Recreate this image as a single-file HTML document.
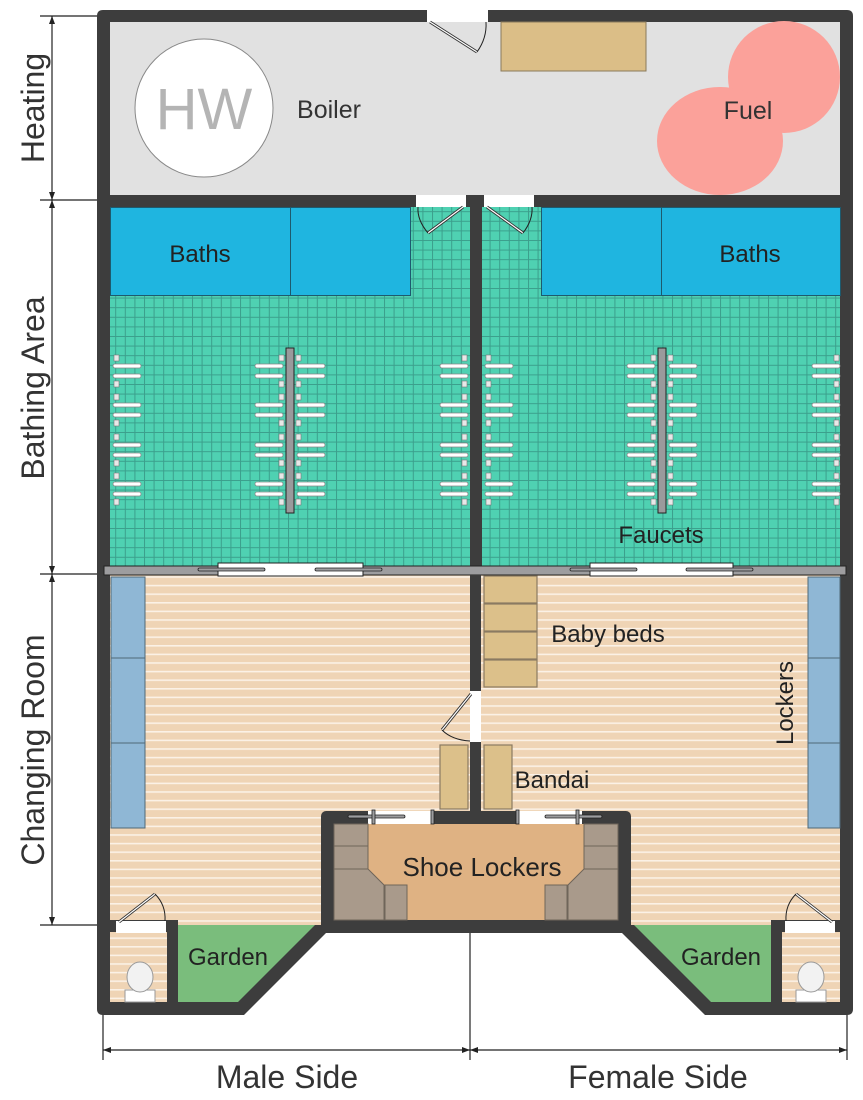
<!DOCTYPE html>
<html><head><meta charset="utf-8"><style>
html,body{margin:0;padding:0;background:#fff;}
svg{display:block;font-family:"Liberation Sans","DejaVu Sans",sans-serif;}
</style></head><body>
<svg width="863" height="1100" viewBox="0 0 863 1100" xmlns="http://www.w3.org/2000/svg">
<defs>
<pattern id="grid" width="9.6" height="9.6" patternUnits="userSpaceOnUse">
<rect width="9.6" height="9.6" fill="#4fd1b2"/>
<path d="M0 0.5H9.6M0.5 0V9.6" stroke="#3b9f8c" stroke-width="1"/>
</pattern>
<pattern id="wood" width="20" height="8.6" patternUnits="userSpaceOnUse">
<rect width="20" height="8.6" fill="#efd4b5"/>
<rect y="0" width="20" height="1.6" fill="#fbf1e6"/>
</pattern>
<g id="fl"><rect x="0" y="-2" width="28" height="4" rx="2" fill="#fff" stroke="#888" stroke-width="0.8"/></g>
</defs>

<!-- dimension lines -->
<g stroke="#222" stroke-width="1.2" fill="none">
<line x1="52" y1="16" x2="52" y2="925"/>
<line x1="40" y1="16" x2="105" y2="16"/>
<line x1="40" y1="200" x2="105" y2="200"/>
<line x1="40" y1="574" x2="105" y2="574"/>
<line x1="40" y1="925" x2="105" y2="925"/>
<line x1="103" y1="1050" x2="847" y2="1050"/>
<line x1="103" y1="1010" x2="103" y2="1060"/>
<line x1="470" y1="925" x2="470" y2="1060"/>
<line x1="847" y1="1010" x2="847" y2="1060"/>
</g>
<g fill="#222">
<path d="M52 16l-3 8h6z M52 200l-3 -8h6z M52 200l-3 8h6z M52 574l-3 -8h6z M52 574l-3 8h6z M52 925l-3 -8h6z"/>
<path d="M103 1050l8 -3v6z M470 1050l-8 -3v6z M470 1050l8 -3v6z M847 1050l-8 -3v6z"/>
</g>
<g fill="#333" font-size="32">
<text transform="translate(44,108) rotate(-90)" text-anchor="middle">Heating</text>
<text transform="translate(44,388) rotate(-90)" text-anchor="middle">Bathing Area</text>
<text transform="translate(44,750) rotate(-90)" text-anchor="middle">Changing Room</text>
<text x="287" y="1088" text-anchor="middle">Male Side</text>
<text x="658" y="1088" text-anchor="middle">Female Side</text>
</g>

<!-- outer dark shell -->
<path d="M97 16 Q97 10 103 10 H847 Q853 10 853 16 V1009 Q853 1015 847 1015 H705 L622 933 H326 L244 1015 H103 Q97 1015 97 1009 Z" fill="#3d3d3d"/>

<!-- heating -->
<rect x="110" y="22" width="730" height="173" fill="#e1e1e1"/>
<rect x="427" y="10" width="61" height="12" fill="#fff"/>
<path d="M430 22 L477 52" stroke="#333" stroke-width="3"/><path d="M430 22 L477 52" stroke="#fff" stroke-width="1.2"/>
<path d="M477 52 Q487 38 486 22" stroke="#222" fill="none" stroke-width="1"/>
<rect x="501" y="22" width="145" height="49" fill="#dbbe87" stroke="#8a7a5c" stroke-width="1"/>
<circle cx="204" cy="108" r="69" fill="#fff" stroke="#888" stroke-width="1"/>
<text x="204" y="129" text-anchor="middle" font-size="58" fill="#b4b4b4" style="font-weight:100">HW</text>
<text x="329" y="118" text-anchor="middle" font-size="25" fill="#333">Boiler</text>
<g fill="#fba19a">
<circle cx="784" cy="77" r="56"/>
<ellipse cx="720" cy="141" rx="63" ry="54"/>
</g>
<rect x="840" y="22" width="13" height="173" fill="#3d3d3d"/>
<text x="748" y="119" text-anchor="middle" font-size="25" fill="#333">Fuel</text>

<!-- bathing -->
<rect x="110" y="207" width="360" height="359" fill="url(#grid)"/>
<rect x="482" y="207" width="358" height="359" fill="url(#grid)"/>
<rect x="416" y="195" width="50" height="12" fill="#fff"/>
<rect x="484" y="195" width="50" height="12" fill="#fff"/>
<g fill="none">
<path d="M463 207 L428 233" stroke="#333" stroke-width="3"/><path d="M463 207 L428 233" stroke="#fff" stroke-width="1.2"/>
<path d="M428 233 Q417 220 418 207" stroke="#222"/>
<path d="M487 207 L523 233" stroke="#333" stroke-width="3"/><path d="M487 207 L523 233" stroke="#fff" stroke-width="1.2"/>
<path d="M523 233 Q533 220 532 207" stroke="#222"/>
</g>
<g fill="#1fb5e0" stroke="#1d5a6e" stroke-width="1">
<rect x="110.5" y="207.5" width="180" height="88"/>
<rect x="290.5" y="207.5" width="120" height="88"/>
<rect x="541.5" y="207.5" width="120" height="88"/>
<rect x="661.5" y="207.5" width="179" height="88"/>
</g>
<g fill="#222" font-size="24">
<text x="200" y="262" text-anchor="middle">Baths</text>
<text x="750" y="262" text-anchor="middle">Baths</text>
<text x="661" y="543" text-anchor="middle">Faucets</text>
</g>
<!-- faucets -->
<g id="fcol">
<g>
<use href="#fl" x="113" y="366"/><use href="#fl" x="113" y="376"/>
<use href="#fl" x="113" y="405"/><use href="#fl" x="113" y="415"/>
<use href="#fl" x="113" y="445"/><use href="#fl" x="113" y="455"/>
<use href="#fl" x="113" y="484"/><use href="#fl" x="113" y="494"/>
<use href="#fl" x="255" y="366"/><use href="#fl" x="255" y="376"/>
<use href="#fl" x="255" y="405"/><use href="#fl" x="255" y="415"/>
<use href="#fl" x="255" y="445"/><use href="#fl" x="255" y="455"/>
<use href="#fl" x="255" y="484"/><use href="#fl" x="255" y="494"/>
<use href="#fl" x="297" y="366"/><use href="#fl" x="297" y="376"/>
<use href="#fl" x="297" y="405"/><use href="#fl" x="297" y="415"/>
<use href="#fl" x="297" y="445"/><use href="#fl" x="297" y="455"/>
<use href="#fl" x="297" y="484"/><use href="#fl" x="297" y="494"/>
<use href="#fl" x="440" y="366"/><use href="#fl" x="440" y="376"/>
<use href="#fl" x="440" y="405"/><use href="#fl" x="440" y="415"/>
<use href="#fl" x="440" y="445"/><use href="#fl" x="440" y="455"/>
<use href="#fl" x="440" y="484"/><use href="#fl" x="440" y="494"/>
</g>
<rect x="286" y="348" width="8" height="165" fill="#9a9a9c" stroke="#222" stroke-width="1"/>
<g fill="#e8e8e8" stroke="#777" stroke-width="0.6">
<rect x="114" y="355" width="5" height="6"/><rect x="114" y="381" width="5" height="6"/>
<rect x="114" y="394" width="5" height="6"/><rect x="114" y="420" width="5" height="6"/>
<rect x="114" y="434" width="5" height="6"/><rect x="114" y="460" width="5" height="6"/>
<rect x="114" y="473" width="5" height="6"/><rect x="114" y="499" width="5" height="6"/>
<rect x="279" y="355" width="5" height="6"/><rect x="279" y="381" width="5" height="6"/>
<rect x="279" y="394" width="5" height="6"/><rect x="279" y="420" width="5" height="6"/>
<rect x="279" y="434" width="5" height="6"/><rect x="279" y="460" width="5" height="6"/>
<rect x="279" y="473" width="5" height="6"/><rect x="279" y="499" width="5" height="6"/>
<rect x="296" y="355" width="5" height="6"/><rect x="296" y="381" width="5" height="6"/>
<rect x="296" y="394" width="5" height="6"/><rect x="296" y="420" width="5" height="6"/>
<rect x="296" y="434" width="5" height="6"/><rect x="296" y="460" width="5" height="6"/>
<rect x="296" y="473" width="5" height="6"/><rect x="296" y="499" width="5" height="6"/>
<rect x="462" y="355" width="5" height="6"/><rect x="462" y="381" width="5" height="6"/>
<rect x="462" y="394" width="5" height="6"/><rect x="462" y="420" width="5" height="6"/>
<rect x="462" y="434" width="5" height="6"/><rect x="462" y="460" width="5" height="6"/>
<rect x="462" y="473" width="5" height="6"/><rect x="462" y="499" width="5" height="6"/>
</g>
</g>
<use href="#fcol" x="372"/>

<!-- central wall bathing -->
<rect x="470" y="195" width="12" height="372" fill="#3d3d3d"/>

<!-- changing room floor -->
<rect x="110" y="575" width="730" height="350" fill="url(#wood)"/>
<!-- separator -->
<rect x="104" y="566" width="742" height="9" fill="#9d9d9f" stroke="#222" stroke-width="1"/>
<rect x="218" y="563" width="145" height="13" fill="#fff" stroke="#222" stroke-width="1"/>
<rect x="590" y="563" width="143" height="13" fill="#fff" stroke="#222" stroke-width="1"/>
<g fill="#9d9d9f" stroke="#222" stroke-width="0.8">
<rect x="198" y="568" width="67" height="3" rx="1.5"/><rect x="315" y="568" width="67" height="3" rx="1.5"/>
<rect x="570" y="568" width="67" height="3" rx="1.5"/><rect x="686" y="568" width="67" height="3" rx="1.5"/>
</g>
<!-- lockers -->
<g fill="#8fb7d5" stroke="#4f6878" stroke-width="1">
<rect x="111" y="577" width="34" height="81"/><rect x="111" y="658" width="34" height="85"/><rect x="111" y="743" width="34" height="85"/>
<rect x="808" y="577" width="32" height="81"/><rect x="808" y="658" width="32" height="85"/><rect x="808" y="743" width="32" height="85"/>
</g>
<text transform="translate(793,703) rotate(-90)" text-anchor="middle" font-size="24" fill="#222">Lockers</text>
<!-- central wall changing -->
<rect x="470" y="575" width="11" height="116" fill="#3d3d3d"/>
<rect x="470" y="691" width="11" height="51" fill="#fff"/>
<rect x="470" y="742" width="11" height="70" fill="#3d3d3d"/>
<path d="M471 694 L442 730" stroke="#333" stroke-width="3"/><path d="M471 694 L442 730" stroke="#fff" stroke-width="1.2"/>
<path d="M442 730 Q452 740 470 741" stroke="#222" fill="none"/>
<!-- baby beds -->
<g fill="#dcc08a" stroke="#8a7a62" stroke-width="1.2">
<rect x="484" y="576" width="53" height="27"/><rect x="484" y="604" width="53" height="27"/>
<rect x="484" y="632" width="53" height="27"/><rect x="484" y="660" width="53" height="27"/>
</g>
<text x="608" y="642" text-anchor="middle" font-size="24" fill="#222">Baby beds</text>
<!-- bandai -->
<g fill="#dcc08a" stroke="#8a7a62" stroke-width="1.2">
<rect x="440" y="745" width="28" height="64"/><rect x="484" y="745" width="28" height="64"/>
</g>
<text x="552" y="788" text-anchor="middle" font-size="24" fill="#222">Bandai</text>

<!-- shoe locker enclosure -->
<rect x="321" y="811" width="310" height="122" rx="5" fill="#3d3d3d"/>
<rect x="334" y="824" width="284" height="96" fill="#dfb283"/>
<rect x="368" y="811" width="64" height="13" fill="#fff"/>
<rect x="518" y="811" width="64" height="13" fill="#fff"/>
<g fill="#9d9d9f" stroke="#222" stroke-width="0.8">
<rect x="348" y="815" width="57" height="3" rx="1.5"/><rect x="545" y="815" width="57" height="3" rx="1.5"/>
<rect x="372" y="810" width="3" height="14"/><rect x="431" y="810" width="3" height="14"/>
<rect x="516" y="810" width="3" height="14"/><rect x="576" y="810" width="3" height="14"/>
</g>
<g fill="#a99a8b" stroke="#6f655a" stroke-width="1">
<rect x="334" y="824" width="34" height="22"/><rect x="334" y="846" width="34" height="23"/>
<path d="M334 869 H368 L384 885 V920 H334 Z"/><rect x="385" y="885" width="22" height="35"/>
<rect x="584" y="824" width="34" height="22"/><rect x="584" y="846" width="34" height="23"/>
<path d="M618 869 H584 L568 885 V920 H618 Z"/><rect x="545" y="885" width="22" height="35"/>
</g>
<text x="482" y="876" text-anchor="middle" font-size="26" fill="#222">Shoe Lockers</text>

<!-- bottom left -->
<rect x="110" y="932" width="57" height="70" fill="url(#wood)"/>
<rect x="110" y="920" width="68" height="12" fill="#3d3d3d"/>
<rect x="116" y="921" width="50" height="12" fill="#fff"/>
<rect x="167" y="920" width="11" height="83" fill="#3d3d3d"/>
<path d="M178 925 H315 L238 1002 H178 Z" fill="#7abd7c"/>
<path d="M119 922 L155 894" stroke="#333" stroke-width="3"/><path d="M119 922 L155 894" stroke="#fff" stroke-width="1.2"/>
<path d="M155 894 Q166 905 165 921" stroke="#222" fill="none"/>
<rect x="125" y="990" width="30" height="12" fill="#fff" stroke="#999"/>
<ellipse cx="140" cy="977" rx="13" ry="15" fill="#f2f2f2" stroke="#999"/>
<text x="228" y="965" text-anchor="middle" font-size="24" fill="#222">Garden</text>

<!-- bottom right -->
<rect x="782" y="932" width="58" height="70" fill="url(#wood)"/>
<rect x="771" y="920" width="69" height="12" fill="#3d3d3d"/>
<rect x="785" y="921" width="50" height="12" fill="#fff"/>
<rect x="771" y="920" width="11" height="83" fill="#3d3d3d"/>
<path d="M771 925 H634 L711 1002 H771 Z" fill="#7abd7c"/>
<path d="M832 922 L796 894" stroke="#333" stroke-width="3"/><path d="M832 922 L796 894" stroke="#fff" stroke-width="1.2"/>
<path d="M796 894 Q785 905 786 921" stroke="#222" fill="none"/>
<rect x="796" y="990" width="30" height="12" fill="#fff" stroke="#999"/>
<ellipse cx="811" cy="977" rx="13" ry="15" fill="#f2f2f2" stroke="#999"/>
<text x="721" y="965" text-anchor="middle" font-size="24" fill="#222">Garden</text>
</svg>
</body></html>
